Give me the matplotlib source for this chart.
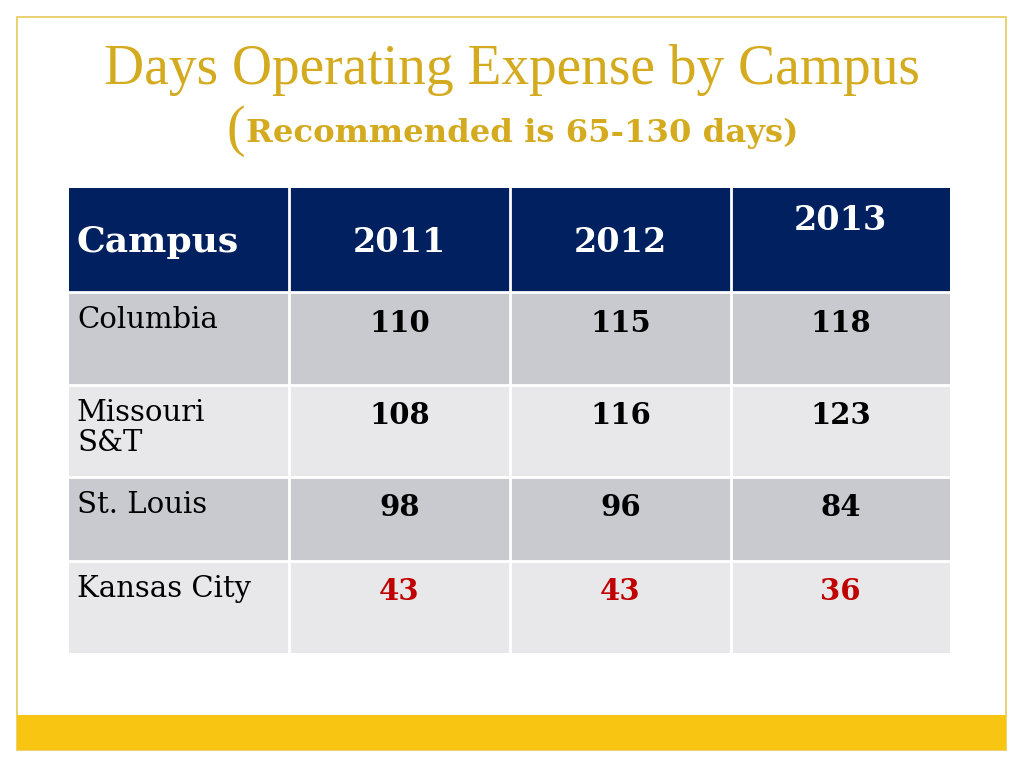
import matplotlib.pyplot as plt
from matplotlib.patches import Rectangle

# data
campuses = ["Columbia", "Missouri\nS&T", "St. Louis", "Kansas City"]
years = ["2011", "2012", "2013"]
val_2011 = [110, 108, 98, 43]
val_2012 = [115, 116, 96, 43]
val_2013 = [118, 123, 84, 36]
low_flag = [False, False, False, True]

title = "Days Operating Expense by Campus"
subtitle = "Recommended is 65-130 days)"

# layout (pixels)
W, H = 1024, 768
col_x = [69, 289, 510, 731, 950]
row_y = [188, 292, 385, 477, 561, 653]
navy = "#002060"
gold = "#D4AA1E"
row_colors = ["#C9CAD0", "#E8E8EA", "#C9CAD0", "#E8E8EA"]
serif = ["Liberation Serif", "DejaVu Serif"]
wide = ["DejaVu Serif"]

fig = plt.figure(figsize=(W / 100, H / 100), dpi=100)
ax = fig.add_axes([0, 0, 1, 1])
ax.set_xlim(0, W)
ax.set_ylim(H, 0)
ax.axis("off")

# slide frame and bottom band
ax.add_patch(Rectangle((17, 17), 989, 733, fill=False, ec="#E8C95A", lw=1.2))
ax.add_patch(Rectangle((17, 715), 989, 35, fc="#F7C512", ec="none"))

ax.text(512, 70, title, ha="center", va="center", color=gold,
        fontsize=40, family=serif)
ax.text(245, 131, "(", ha="right", va="center", color=gold,
        fontsize=40, family=serif)
ax.text(246, 133, subtitle, ha="left", va="center", color=gold,
        fontsize=23.2, fontweight="bold", family=wide)

# header row
ax.add_patch(Rectangle((col_x[0], row_y[0]), col_x[-1] - col_x[0],
                       row_y[1] - row_y[0], fc=navy, ec="none"))
ax.text(col_x[0] + 8, 242, "Campus", ha="left", va="center", color="white",
        fontsize=26, fontweight="bold", family=wide)
for j, yr in enumerate(years):
    cx = (col_x[j + 1] + col_x[j + 2]) / 2
    cy = 220 if j == 2 else 242
    ax.text(cx, cy, yr, ha="center", va="center", color="white",
            fontsize=24, fontweight="bold", family=wide)

# body rows
values = list(zip(val_2011, val_2012, val_2013))
for i, name in enumerate(campuses):
    top, bot = row_y[i + 1], row_y[i + 2]
    ax.add_patch(Rectangle((col_x[0], top), col_x[-1] - col_x[0], bot - top,
                           fc=row_colors[i], ec="none"))
    ax.text(col_x[0] + 8, top + 14, name, ha="left", va="top", color="black",
            fontsize=21, family=wide, linespacing=1.1)
    color = "#C00000" if low_flag[i] else "black"
    for j, v in enumerate(values[i]):
        cx = (col_x[j + 1] + col_x[j + 2]) / 2
        ax.text(cx, top + 31, str(v), ha="center", va="center", color=color,
                fontsize=21, fontweight="bold", family=wide)

# white grid lines
for x in col_x[1:-1]:
    ax.plot([x, x], [row_y[0], row_y[-1]], color="white", lw=2)
for y in row_y[1:-1]:
    ax.plot([col_x[0], col_x[-1]], [y, y], color="white", lw=2)

fig.savefig("out.png", dpi=100)
